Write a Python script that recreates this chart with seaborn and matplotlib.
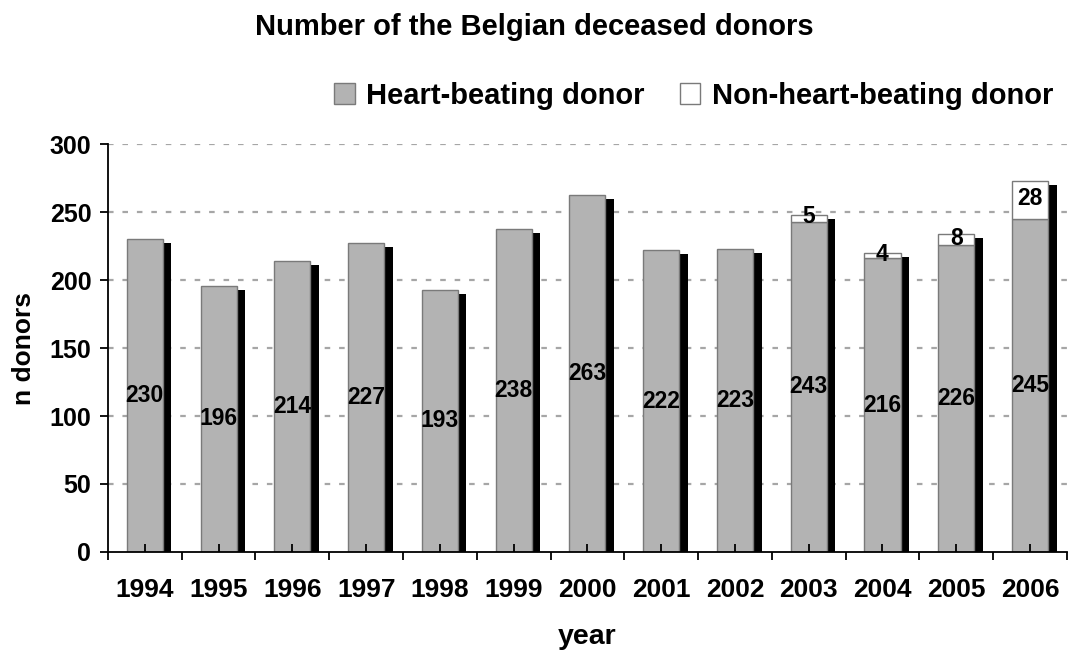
import numpy as np
import pandas as pd
import matplotlib
matplotlib.use("Agg")
import matplotlib.pyplot as plt
import matplotlib.transforms as mtransforms
from matplotlib.patches import Patch
from matplotlib.ticker import MultipleLocator, FixedLocator
import seaborn as sns

years = ["1994", "1995", "1996", "1997", "1998", "1999", "2000",
         "2001", "2002", "2003", "2004", "2005", "2006"]
heart_beating = [230, 196, 214, 227, 193, 238, 263, 222, 223, 243, 216, 226, 245]
non_heart_beating = [0, 0, 0, 0, 0, 0, 0, 0, 0, 5, 4, 8, 28]

df = pd.DataFrame({"year": years, "hb": heart_beating, "nhb": non_heart_beating})
df["total"] = df["hb"] + df["nhb"]

sns.set_theme(style="white")
plt.rcParams["font.family"] = ["Liberation Sans", "DejaVu Sans"]
plt.rcParams["font.weight"] = "bold"
for k in ["text.color", "axes.labelcolor", "xtick.color", "ytick.color"]:
    plt.rcParams[k] = "black"

fig = plt.figure(figsize=(10.69, 6.5), dpi=100)
ax = fig.add_axes([0.101, 0.151, 0.897, 0.627])
ax.set_axisbelow(False)

W = 0.49
GRAY = "#b3b3b3"
EDGE = "#7a7a7a"

# shadow bars
sns.barplot(data=df, x="year", y="total", color="black", width=W, ax=ax,
            saturation=1, edgecolor="black", linewidth=0)
n_shadow = len(ax.patches)
offset = mtransforms.ScaledTranslation(8.5 / 100, -4 / 100, fig.dpi_scale_trans)
for p in ax.patches[:n_shadow]:
    p.set_transform(ax.transData + offset)
    p.set_zorder(1)

# heart-beating bars
sns.barplot(data=df, x="year", y="hb", color=GRAY, width=W, ax=ax,
            saturation=1, edgecolor=EDGE, linewidth=1.0)
for p in ax.patches[n_shadow:]:
    p.set_zorder(2)

# non-heart-beating bars stacked
for i in range(len(df)):
    if df["nhb"][i] > 0:
        ax.bar(i, df["nhb"][i], bottom=df["hb"][i], width=W, color="white",
               edgecolor=EDGE, linewidth=1.0, zorder=2)

# labels
for i in range(len(df)):
    ax.text(i, df["hb"][i] / 2, str(df["hb"][i]), ha="center", va="center",
            fontsize=16.5, fontweight="bold", color="black", zorder=5)
    if df["nhb"][i] > 0:
        ax.text(i, df["hb"][i] + df["nhb"][i] / 2 + 1, str(df["nhb"][i]),
                ha="center", va="center", fontsize=16.5, fontweight="bold",
                color="black", zorder=5)

ax.set_xlim(-0.5, len(df) - 0.5)
ax.set_ylim(0, 300)
ax.yaxis.set_major_locator(MultipleLocator(50))
for v in range(50, 301, 50):
    ax.axhline(v, color="#a6a6a6", linestyle=(0, (2.5, 4)), linewidth=1.6, zorder=0)

for s in ["top", "right"]:
    ax.spines[s].set_visible(False)
for s in ["left", "bottom"]:
    ax.spines[s].set_color("black")
    ax.spines[s].set_linewidth(1.3)
    ax.spines[s].set_zorder(3)

ax.tick_params(axis="y", direction="out", length=6, width=1.3, color="black",
               left=True, labelsize=18, pad=6)
ax.tick_params(axis="x", which="major", direction="in", length=6, width=1.3,
               color="black", bottom=True, labelsize=19, pad=19)
ax.xaxis.set_minor_locator(FixedLocator(np.arange(-0.5, len(df), 1.0)))
ax.tick_params(axis="x", which="minor", direction="out", length=6, width=1.3,
               color="black", bottom=True)
for lab in ax.get_xticklabels() + ax.get_yticklabels():
    lab.set_fontweight("bold")

ax.set_xlabel("year", fontsize=20.5, fontweight="bold", labelpad=16)
ax.set_ylabel("n donors", fontsize=19, fontweight="bold", labelpad=10)

fig.suptitle("Number of the Belgian deceased donors", x=0.5, y=0.98,
             fontsize=21, fontweight="bold")

handles = [Patch(facecolor=GRAY, edgecolor=EDGE, label="Heart-beating donor"),
           Patch(facecolor="white", edgecolor=EDGE, label="Non-heart-beating donor")]
fig.legend(handles=handles, loc="center right", bbox_to_anchor=(1.01, 0.853),
           ncol=2, frameon=False, prop={"size": 21, "weight": "bold"},
           handlelength=0.7, handleheight=0.7, handletextpad=0.4,
           columnspacing=1.2)

fig.savefig("out.png", dpi=100)
